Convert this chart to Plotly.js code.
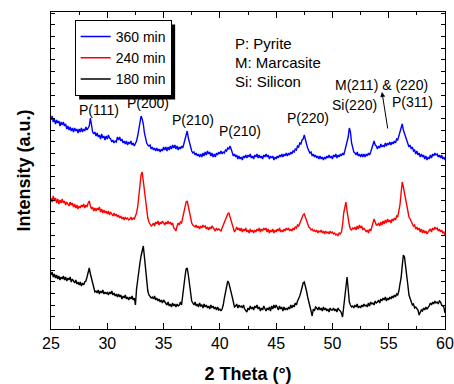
<!DOCTYPE html>
<html>
<head>
<meta charset="utf-8">
<script src="https://cdn.plot.ly/plotly-3.0.1.min.js"></script>
<style>html,body{margin:0;padding:0;background:#fff;}#chart{width:454px;height:384px;}</style>
</head>
<body>
<div id="chart"></div>
<script>
// 2 Theta grid (degrees)
const twoTheta = [
25.0,25.1,25.2,25.3,25.4,25.5,25.6,25.7,25.8,25.9,
26.0,26.1,26.2,26.3,26.4,26.5,26.6,26.7,26.8,26.9,
27.0,27.1,27.2,27.3,27.4,27.5,27.6,27.7,27.8,27.9,
28.0,28.1,28.2,28.3,28.4,28.5,28.6,28.7,28.8,28.9,
29.0,29.1,29.2,29.3,29.4,29.5,29.6,29.7,29.8,29.9,
30.0,30.1,30.2,30.3,30.4,30.5,30.6,30.7,30.8,30.9,
31.0,31.1,31.2,31.3,31.4,31.5,31.6,31.7,31.8,31.9,
32.0,32.1,32.2,32.3,32.4,32.5,32.6,32.7,32.8,32.9,
33.0,33.1,33.2,33.3,33.4,33.5,33.6,33.7,33.8,33.9,
34.0,34.1,34.2,34.3,34.4,34.5,34.6,34.7,34.8,34.9,
35.0,35.1,35.2,35.3,35.4,35.5,35.6,35.7,35.8,35.9,
36.0,36.1,36.2,36.3,36.4,36.5,36.6,36.7,36.8,36.9,
37.0,37.1,37.2,37.3,37.4,37.5,37.6,37.7,37.8,37.9,
38.0,38.1,38.2,38.3,38.4,38.5,38.6,38.7,38.8,38.9,
39.0,39.1,39.2,39.3,39.4,39.5,39.6,39.7,39.8,39.9,
40.0,40.1,40.2,40.3,40.4,40.5,40.6,40.7,40.8,40.9,
41.0,41.1,41.2,41.3,41.4,41.5,41.6,41.7,41.8,41.9,
42.0,42.1,42.2,42.3,42.4,42.5,42.6,42.7,42.8,42.9,
43.0,43.1,43.2,43.3,43.4,43.5,43.6,43.7,43.8,43.9,
44.0,44.1,44.2,44.3,44.4,44.5,44.6,44.7,44.8,44.9,
45.0,45.1,45.2,45.3,45.4,45.5,45.6,45.7,45.8,45.9,
46.0,46.1,46.2,46.3,46.4,46.5,46.6,46.7,46.8,46.9,
47.0,47.1,47.2,47.3,47.4,47.5,47.6,47.7,47.8,47.9,
48.0,48.1,48.2,48.3,48.4,48.5,48.6,48.7,48.8,48.9,
49.0,49.1,49.2,49.3,49.4,49.5,49.6,49.7,49.8,49.9,
50.0,50.1,50.2,50.3,50.4,50.5,50.6,50.7,50.8,50.9,
51.0,51.1,51.2,51.3,51.4,51.5,51.6,51.7,51.8,51.9,
52.0,52.1,52.2,52.3,52.4,52.5,52.6,52.7,52.8,52.9,
53.0,53.1,53.2,53.3,53.4,53.5,53.6,53.7,53.8,53.9,
54.0,54.1,54.2,54.3,54.4,54.5,54.6,54.7,54.8,54.9,
55.0,55.1,55.2,55.3,55.4,55.5,55.6,55.7,55.8,55.9,
56.0,56.1,56.2,56.3,56.4,56.5,56.6,56.7,56.8,56.9,
57.0,57.1,57.2,57.3,57.4,57.5,57.6,57.7,57.8,57.9,
58.0,58.1,58.2,58.3,58.4,58.5,58.6,58.7,58.8,58.9,
59.0,59.1,59.2,59.3,59.4,59.5,59.6,59.7,59.8,59.9,
60.0
];

// Intensity (a.u., stacked)
const int360 = [
209,213,207,210,205,209,206,208,203,207,
204,207,203,205,200,203,199,202,198,201,
197,201,198,200,196,200,197,201,197,200,
198,202,199,201,203,211,203,197,195,197,
193,196,192,194,190,195,191,193,189,193,
190,194,191,190,187,189,186,188,187,192,
189,192,188,190,186,188,185,188,184,187,
185,188,184,186,183,185,188,193,199,207,
213,210,205,196,190,186,184,183,184,180,
182,179,181,178,181,178,180,177,180,178,
182,179,182,178,182,179,183,180,184,181,
184,180,183,179,182,180,183,181,185,189,
195,198,191,186,181,178,176,177,174,176,
173,175,172,175,172,176,173,177,174,178,
175,177,173,176,172,175,172,176,174,177,
175,178,175,177,176,179,178,181,180,183,
180,176,173,175,172,174,170,173,170,172,
169,173,171,174,171,174,172,175,171,173,
170,174,172,175,171,174,171,173,170,174,
172,175,172,174,170,173,171,173,169,172,
170,173,171,174,172,175,172,175,173,176,
173,176,174,177,175,178,177,180,179,183,
182,186,185,189,190,194,188,185,181,179,
176,177,173,175,172,174,171,173,170,173,
170,172,169,172,170,173,171,174,171,173,
170,174,172,175,171,174,172,175,173,176,
174,178,182,186,192,201,197,186,180,177,
176,174,177,173,175,172,175,172,175,172,
175,173,176,174,177,181,186,188,184,183,
180,183,181,185,182,184,182,186,183,186,
184,187,184,187,185,188,186,190,189,193,
198,203,205,199,196,193,189,186,182,184,
180,182,178,179,175,178,174,176,172,175,
172,174,170,173,169,172,170,174,171,175,
173,176,174,175,172,174,171,174,170,172,
169
];

const int240 = [
131,127,133,128,131,126,130,125,129,126,
130,126,128,124,127,125,123,127,124,126,
122,125,121,124,120,123,121,124,122,125,
121,124,122,126,128,123,120,122,118,121,
118,121,119,122,117,120,116,119,116,118,
115,118,114,117,115,113,116,113,115,112,
114,111,113,110,112,109,112,110,111,109,
110,112,109,111,110,113,116,122,134,146,
154,157,147,137,125,117,111,107,105,103,
104,106,103,107,105,108,104,107,105,108,
106,104,107,105,108,105,107,104,106,101,
100,98,103,106,104,107,106,112,118,124,
127,128,122,116,110,106,104,103,102,104,
101,103,100,103,101,104,102,103,100,102,
99,102,100,103,101,100,98,101,99,100,
99,98,101,104,107,110,112,115,116,112,
108,104,100,97,99,102,99,101,98,101,
97,100,98,101,97,99,96,100,97,99,
96,99,97,100,98,101,97,100,98,101,
99,101,97,100,96,99,97,100,96,99,
97,100,98,101,97,99,97,100,98,101,
99,101,98,100,98,101,99,102,101,104,
103,106,109,111,114,115,112,108,104,102,
101,99,100,98,99,97,99,96,98,97,
99,96,98,95,98,96,97,95,98,96,
97,95,96,94,95,93,96,95,97,104,
116,124,127,118,110,104,100,99,101,100,
102,99,103,100,104,101,103,99,101,98,
97,99,96,100,98,102,106,110,107,104,
104,106,103,107,104,108,105,109,106,110,
107,109,106,110,108,111,109,113,112,117,
124,136,147,142,136,128,122,116,112,110,
107,105,103,104,100,102,99,101,97,100,
96,99,96,98,95,97,98,100,97,101,
99,102,100,101,98,100,97,99,96,97,
94
];

const int180 = [
54,57,52,55,51,54,50,53,49,52,
50,53,49,52,48,51,49,52,47,50,
48,46,49,45,47,44,47,43,46,44,
47,48,52,57,61,55,51,46,41,37,
38,36,39,35,38,36,39,35,37,35,
37,34,37,35,38,34,36,33,35,32,
35,32,34,30,33,31,34,30,32,29,
32,30,33,29,31,24,40,50,58,66,
73,80,83,72,60,47,38,34,33,31,
32,30,33,29,31,28,30,27,29,26,
29,27,26,24,27,23,25,22,26,23,
25,22,25,23,24,27,24,35,41,52,
60,61,54,44,35,28,26,24,27,23,
25,22,26,23,24,21,25,22,24,21,
23,20,24,21,23,20,22,19,22,19,
20,18,20,24,31,37,44,48,46,40,
37,32,27,22,23,25,21,24,22,23,
21,24,20,18,17,21,19,23,20,22,
19,23,21,24,20,22,18,21,19,23,
20,18,21,19,22,18,23,20,24,21,
24,21,19,23,20,22,18,22,19,21,
19,22,20,24,21,24,22,26,24,28,
30,33,37,42,46,47,43,38,32,28,
22,18,13,20,18,22,21,19,22,19,
21,18,22,19,21,18,20,17,21,19,
19,21,18,20,17,21,19,18,16,12,
22,34,45,52,40,27,24,22,23,21,
24,22,25,21,23,21,24,22,25,23,
24,22,26,23,27,25,26,24,28,26,
27,29,26,30,28,31,29,32,28,31,
29,32,30,33,31,34,32,35,34,38,
45,51,63,74,72,64,56,44,34,30,
27,24,25,21,22,20,19,14,17,19,
18,21,19,22,20,21,23,26,24,27,
25,28,26,27,25,28,27,24,23,22,
16
];

const seriesNames = ['360 min', '240 min', '180 min'];
const seriesColors = ['#0000ff', '#ff0000', '#000000'];

// peak labels
const peakText = ['P(111)', 'P(200)', 'P(210)', 'P(210)', 'P(220)', 'Si(220)', 'M(211) & (220)', 'P(311)'];
const peakX = [29.26, 33.61, 37.61, 41.78, 47.82, 52.0, 54.4, 57.15];
const peakY = [219, 226, 209, 198, 211, 224, 244, 227];

const phaseKey = ['P: Pyrite', 'M: Marcasite', 'Si: Silicon'];

const xTicks = [25, 30, 35, 40, 45, 50, 55, 60];

const FONT = 'Arial, "Liberation Sans", Helvetica, sans-serif';

const traces = [int360, int240, int180].map((y, i) => ({
  x: twoTheta, y: y, type: 'scatter', mode: 'lines', name: seriesNames[i],
  line: {color: seriesColors[i], width: 1.4}
}));

const annotations = peakText.map((t, i) => ({
  x: peakX[i], y: peakY[i], xref: 'x', yref: 'y', text: t, showarrow: false,
  font: {family: FONT, size: 14, color: '#000'}
}));
phaseKey.forEach((t, i) => {
  annotations.push({
    x: 0.463, y: 0.90 - i * 0.06, xref: 'paper', yref: 'paper', text: t,
    xanchor: 'left', yanchor: 'middle', showarrow: false,
    font: {family: FONT, size: 15, color: '#000'}
  });
});
// arrow for M(211) & (220)
annotations.push({
  x: 54.4, y: 237, xref: 'x', yref: 'y', text: '', showarrow: true,
  ax: 6, ay: 38, arrowhead: 2, arrowsize: 1, arrowwidth: 1, arrowcolor: '#000'
});

const layout = {
  width: 454, height: 384,
  margin: {l: 51, r: 9, t: 12, b: 55, pad: 0},
  paper_bgcolor: '#fff', plot_bgcolor: '#fff',
  font: {family: FONT, color: '#000'},
  showlegend: true,
  legend: {
    x: 0.06, y: 0.975, xanchor: 'left', yanchor: 'top',
    bgcolor: '#fff', bordercolor: '#000', borderwidth: 1,
    font: {family: FONT, size: 14, color: '#000'},
    tracegroupgap: 0, itemwidth: 30
  },
  xaxis: {
    range: [25, 60], tickvals: xTicks, ticktext: xTicks.map(String),
    ticks: 'inside', ticklen: 6, tickwidth: 1, tickcolor: '#000',
    minor: {tickvals: [27.5, 32.5, 37.5, 42.5, 47.5, 52.5, 57.5], ticks: 'inside', ticklen: 3, tickcolor: '#000'},
    showline: true, linecolor: '#000', linewidth: 1, mirror: 'allticks',
    showgrid: false, zeroline: false,
    tickfont: {family: FONT, size: 16, color: '#000'},
    title: {text: '<b>2 Theta (°)</b>', font: {family: FONT, size: 18, color: '#000'}, standoff: 16}
  },
  yaxis: {
    range: [0, 317], tick0: 0.6, dtick: 11.67, showticklabels: false,
    ticks: 'inside', ticklen: 4, tickwidth: 1, tickcolor: '#000',
    showline: true, linecolor: '#000', linewidth: 1, mirror: 'allticks',
    showgrid: false, zeroline: false,
    title: {text: '<b>Intensity (a.u.)</b>', font: {family: FONT, size: 18, color: '#000'}, standoff: 14}
  },
  annotations: annotations
};

const gd = document.getElementById('chart');
Plotly.newPlot(gd, traces, layout, {displayModeBar: false, staticPlot: true}).then(() => {
  // drop shadow behind the legend box, sized from the rendered legend
  const bg = gd.querySelector('.legend .bg');
  if (!bg) return;
  const r = bg.getBoundingClientRect();
  const c = gd.getBoundingClientRect();
  const s = gd._fullLayout._size;
  const off = 4;
  const toPX = px => (px - c.left - s.l) / s.w;
  const toPY = py => 1 - (py - c.top - s.t) / s.h;
  return Plotly.relayout(gd, {shapes: [{
    type: 'rect', xref: 'paper', yref: 'paper', layer: 'above',
    x0: toPX(r.left + off), x1: toPX(r.right + off),
    y0: toPY(r.bottom + off), y1: toPY(r.top + off),
    fillcolor: '#000', line: {width: 0}
  }]});
});
</script>
</body>
</html>
